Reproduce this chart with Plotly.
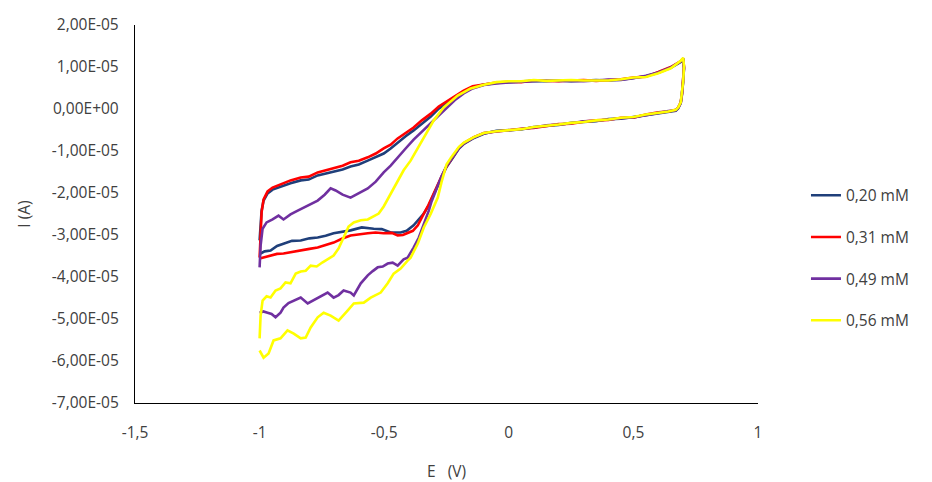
import plotly.graph_objects as go

# ---------------- data (E in V, I in µA) ----------------
SERIES_NAMES = ["0,20 mM", "0,31 mM", "0,49 mM", "0,56 mM"]
SERIES_COLORS = ["#1F3F7A", "#FF0000", "#7030A0", "#FFFF00"]

# shared plateau (forward scan) potentials
E_UP_COMMON = [-0.10, -0.05, 0.0, 0.05, 0.10, 0.15, 0.20, 0.25, 0.30, 0.35,
               0.40, 0.45, 0.50, 0.55, 0.60, 0.65, 0.69, 0.70]
# shared reverse scan potentials
E_REV_COMMON = [0.703, 0.70, 0.695, 0.69, 0.68, 0.67, 0.64, 0.60, 0.55, 0.50,
                0.45, 0.40, 0.35, 0.30, 0.25, 0.20, 0.15, 0.10, 0.05, 0.0,
                -0.05, -0.10, -0.14, -0.18, -0.20, -0.23]

# ---- 0,20 mM ----
E_020_FWD = [-1.0, -0.996, -0.992, -0.984, -0.968, -0.948, -0.916, -0.876, -0.835,
             -0.803, -0.767, -0.735, -0.703, -0.667, -0.635, -0.602, -0.566, -0.534,
             -0.502, -0.474, -0.446, -0.414, -0.382, -0.349, -0.313, -0.281, -0.245,
             -0.213, -0.181, -0.145]
I_020_FWD = [-31.3, -27.0, -24.2, -21.8, -20.1, -19.2, -18.5, -17.7, -17.0,
             -16.8, -15.8, -15.4, -14.9, -14.4, -13.7, -13.2, -12.3, -11.5,
             -10.6, -9.4, -8.0, -6.5, -5.1, -3.5, -1.8, 0.1, 1.5,
             3.0, 3.9, 5.1]
I_020_UP = [5.8, 6.2, 6.4, 6.5, 6.7, 6.6, 6.8, 6.6, 6.7, 6.9,
            6.8, 7.0, 7.4, 7.8, 8.6, 9.8, 11.2, 11.8]
I_020_REV = [9.6, 6.2, 3.4, 1.4, 0.2, -0.4, -0.7, -1.0, -1.5, -1.9,
             -2.3, -2.4, -2.9, -3.1, -3.3, -3.8, -4.1, -4.3, -4.9, -5.1,
             -5.2, -5.9, -6.9, -8.3, -9.4, -12.1]
E_020_LOW = [-0.25, -0.27, -0.29, -0.31, -0.322, -0.341, -0.382, -0.41, -0.434,
             -0.474, -0.51, -0.542, -0.59, -0.635, -0.67, -0.703, -0.735, -0.767,
             -0.80, -0.835, -0.87, -0.904, -0.93, -0.956, -0.98, -0.996]
I_020_LOW = [-13.8, -16.3, -19.0, -21.6, -23.0, -24.9, -27.7, -29.0, -29.4,
             -29.4, -28.6, -28.5, -28.2, -28.9, -29.3, -29.6, -30.2, -30.6,
             -30.8, -31.3, -31.4, -32.0, -32.6, -33.7, -33.9, -34.4]

# ---- 0,31 mM ----
E_031_FWD = [-1.0, -0.996, -0.992, -0.984, -0.968, -0.948, -0.916, -0.876, -0.835,
             -0.803, -0.767, -0.735, -0.703, -0.667, -0.635, -0.602, -0.566, -0.534,
             -0.502, -0.474, -0.446, -0.414, -0.382, -0.349, -0.313, -0.281, -0.245,
             -0.213, -0.181, -0.145]
I_031_FWD = [-35.4, -28.5, -24.6, -21.5, -19.6, -18.7, -18.0, -17.0, -16.3,
             -16.1, -15.1, -14.6, -14.2, -13.5, -12.7, -12.3, -11.5, -10.6,
             -9.4, -8.5, -7.0, -5.8, -4.4, -2.7, -1.1, 0.6, 2.0,
             3.2, 4.4, 5.4]
I_031_UP = [5.9, 6.3, 6.5, 6.4, 6.8, 6.7, 6.6, 6.8, 6.9, 6.7,
            6.9, 7.1, 7.5, 7.7, 8.8, 10.0, 11.4, 12.0]
I_031_REV = [10.0, 6.6, 3.6, 1.6, 0.4, -0.2, -0.6, -0.8, -1.3, -2.1,
             -2.1, -2.6, -2.7, -3.0, -3.5, -3.6, -4.0, -4.5, -4.7, -5.0,
             -5.4, -5.7, -6.7, -8.1, -9.2, -11.9]
E_031_LOW = [-0.25, -0.27, -0.29, -0.31, -0.322, -0.341, -0.365, -0.385, -0.406,
             -0.425, -0.446, -0.47, -0.502, -0.535, -0.566, -0.60, -0.635, -0.67,
             -0.703, -0.735, -0.767, -0.80, -0.835, -0.87, -0.904, -0.93, -0.956,
             -0.98, -1.0]
I_031_LOW = [-13.7, -16.1, -18.7, -21.4, -22.8, -24.9, -27.7, -29.0, -29.6,
             -30.0, -30.1, -29.5, -29.6, -29.4, -29.6, -29.8, -30.1, -30.9,
             -31.8, -32.4, -33.0, -33.3, -33.7, -34.1, -34.4, -34.5, -34.9,
             -35.4, -35.6]

# ---- 0,49 mM ----
E_049_FWD = [-1.0, -0.996, -0.988, -0.972, -0.948, -0.924, -0.904, -0.876, -0.847,
             -0.807, -0.767, -0.739, -0.715, -0.695, -0.667, -0.635, -0.602, -0.566,
             -0.534, -0.502, -0.474, -0.446, -0.414, -0.382, -0.349, -0.313, -0.281,
             -0.245, -0.213, -0.181, -0.145]
I_049_FWD = [-37.7, -32.5, -28.5, -27.0, -26.3, -25.4, -26.3, -25.1, -24.2,
             -23.0, -21.8, -20.4, -18.9, -19.4, -20.4, -21.1, -20.1, -18.9,
             -17.3, -15.1, -13.5, -11.5, -9.4, -7.3, -5.4, -3.5, -1.5,
             0.4, 2.3, 3.7, 4.9]
I_049_UP = [5.7, 6.1, 6.3, 6.5, 6.6, 6.8, 6.7, 6.7, 6.6, 6.8,
            7.0, 6.9, 7.3, 7.9, 8.7, 9.9, 11.3, 12.1]
I_049_REV = [9.8, 6.4, 3.5, 1.5, 0.3, -0.3, -0.5, -0.9, -1.4, -2.0,
             -2.2, -2.5, -2.8, -2.9, -3.4, -3.7, -3.9, -4.4, -4.8, -5.1,
             -5.3, -5.8, -6.8, -8.2, -9.3, -12.0]
E_049_LOW = [-0.25, -0.27, -0.29, -0.31, -0.321, -0.341, -0.361, -0.382, -0.406,
             -0.422, -0.446, -0.466, -0.486, -0.506, -0.526, -0.546, -0.566, -0.594,
             -0.622, -0.635, -0.663, -0.683, -0.703, -0.727, -0.747, -0.767, -0.787,
             -0.807, -0.835, -0.863, -0.884, -0.904, -0.916, -0.936, -0.952, -0.968,
             -0.985, -1.0]
I_049_LOW = [-13.6, -16.0, -18.9, -22.0, -24.2, -27.3, -30.6, -33.0, -35.4,
             -35.8, -37.3, -36.6, -36.8, -37.5, -37.7, -38.6, -39.6, -41.5,
             -44.4, -43.7, -43.2, -44.3, -44.9, -43.7, -44.4, -44.9, -45.8,
             -46.3, -44.9, -45.6, -46.2, -47.3, -48.5, -49.6, -48.8, -48.5,
             -48.2, -48.5]

# ---- 0,56 mM ----
E_056_FWD = [-1.0, -0.996, -0.988, -0.972, -0.956, -0.936, -0.916, -0.896, -0.876,
             -0.855, -0.835, -0.815, -0.795, -0.771, -0.747, -0.723, -0.703, -0.683,
             -0.663, -0.643, -0.622, -0.594, -0.566, -0.542, -0.522, -0.502, -0.474,
             -0.446, -0.422, -0.394, -0.365, -0.333, -0.301, -0.261, -0.205, -0.153]
I_056_FWD = [-54.6, -49.2, -45.6, -44.6, -44.9, -43.2, -42.7, -41.3, -41.5,
             -39.2, -38.7, -38.5, -37.3, -37.5, -36.5, -35.6, -34.9, -33.2,
             -30.4, -28.0, -27.0, -26.5, -26.3, -25.6, -24.9, -23.2, -20.1,
             -17.0, -14.6, -12.3, -9.4, -6.1, -2.7, 0.4, 3.2, 4.9]
I_056_UP = [5.8, 6.4, 6.6, 6.6, 6.9, 6.7, 6.8, 6.9, 6.8, 6.8,
            6.8, 7.1, 7.5, 7.6, 8.5, 9.7, 11.5, 12.2]
I_056_REV = [10.2, 6.7, 3.6, 1.6, 0.4, -0.2, -0.6, -0.9, -1.3, -1.9,
             -2.1, -2.5, -2.7, -3.1, -3.3, -3.7, -4.0, -4.3, -4.8, -5.0,
             -5.3, -5.7, -6.7, -8.0, -9.0, -11.4]
E_056_LOW = [-0.25, -0.27, -0.285, -0.313, -0.341, -0.365, -0.394, -0.406, -0.434,
             -0.462, -0.486, -0.514, -0.554, -0.582, -0.622, -0.647, -0.683, -0.715,
             -0.743, -0.767, -0.795, -0.815, -0.835, -0.863, -0.888, -0.916, -0.944,
             -0.964, -0.984, -1.0]
I_056_LOW = [-13.2, -17.4, -21.1, -24.9, -28.2, -32.0, -35.4, -36.1, -38.0,
             -39.2, -41.5, -43.7, -44.9, -46.1, -46.3, -48.0, -50.4, -49.2,
             -48.5, -49.6, -52.0, -54.4, -54.6, -53.5, -52.7, -54.6, -55.1,
             -58.2, -59.2, -57.5]

X_TICK_VALUES = [-1.5, -1.0, -0.5, 0.0, 0.5, 1.0]
X_TICK_LABELS = ["-1,5", "-1", "-0,5", "0", "0,5", "1"]
Y_TICK_VALUES = [-7e-5, -6e-5, -5e-5, -4e-5, -3e-5, -2e-5, -1e-5, 0.0, 1e-5, 2e-5]
Y_TICK_LABELS = ["-7,00E-05", "-6,00E-05", "-5,00E-05", "-4,00E-05", "-3,00E-05",
                 "-2,00E-05", "-1,00E-05", "0,00E+00", "1,00E-05", "2,00E-05"]

# ---------------- build the figure ----------------
SERIES = [
    (E_020_FWD, I_020_FWD, I_020_UP, I_020_REV, E_020_LOW, I_020_LOW),
    (E_031_FWD, I_031_FWD, I_031_UP, I_031_REV, E_031_LOW, I_031_LOW),
    (E_049_FWD, I_049_FWD, I_049_UP, I_049_REV, E_049_LOW, I_049_LOW),
    (E_056_FWD, I_056_FWD, I_056_UP, I_056_REV, E_056_LOW, I_056_LOW),
]

FONT = "Open Sans, Noto Sans, sans-serif"
TXT = "#404040"
FS = 15.5

fig = go.Figure()
for k, (ef, i_f, iu, ir, el, il) in enumerate(SERIES):
    e_all = list(ef) + E_UP_COMMON + E_REV_COMMON + list(el)
    i_all = list(i_f) + iu + ir + list(il)
    fig.add_trace(go.Scatter(
        x=e_all, y=[v * 1e-6 for v in i_all], mode="lines",
        name=SERIES_NAMES[k], legendgroup=SERIES_NAMES[k],
        line=dict(color=SERIES_COLORS[k], width=2.6),
    ))

fig.update_layout(
    width=932, height=482,
    margin=dict(l=135, r=174, t=25, b=79, autoexpand=False),
    paper_bgcolor="white", plot_bgcolor="white",
    font=dict(family=FONT, size=FS, color=TXT),
    showlegend=True,
    legend=dict(x=1.077, y=0.383, xanchor="left", yanchor="middle",
                font=dict(family=FONT, size=FS, color=TXT),
                tracegroupgap=18.5, bgcolor="rgba(0,0,0,0)"),
    xaxis=dict(range=[-1.5, 1.0], tickvals=X_TICK_VALUES, ticktext=X_TICK_LABELS,
               automargin=False,
               showgrid=False, zeroline=False, showline=True, linecolor="#000000",
               linewidth=1.3, ticks="outside", ticklen=15, tickcolor="rgba(0,0,0,0)",
               tickfont=dict(size=FS, color=TXT),
               title=dict(text="E\u00a0\u00a0 (V)", font=dict(size=FS, color=TXT), standoff=24)),
    yaxis=dict(range=[-7e-5, 2e-5], tickvals=Y_TICK_VALUES, ticktext=Y_TICK_LABELS,
               automargin=False,
               showgrid=False, zeroline=False, showline=True, linecolor="#000000",
               linewidth=1.3, ticks="outside", ticklen=12, tickcolor="rgba(0,0,0,0)",
               tickfont=dict(size=FS, color=TXT),
               title=dict(text="I (A)", font=dict(size=FS, color=TXT), standoff=17)),
)

fig.write_html("out.html", config={"displayModeBar": False},
               post_script="document.body.style.margin='0';")
